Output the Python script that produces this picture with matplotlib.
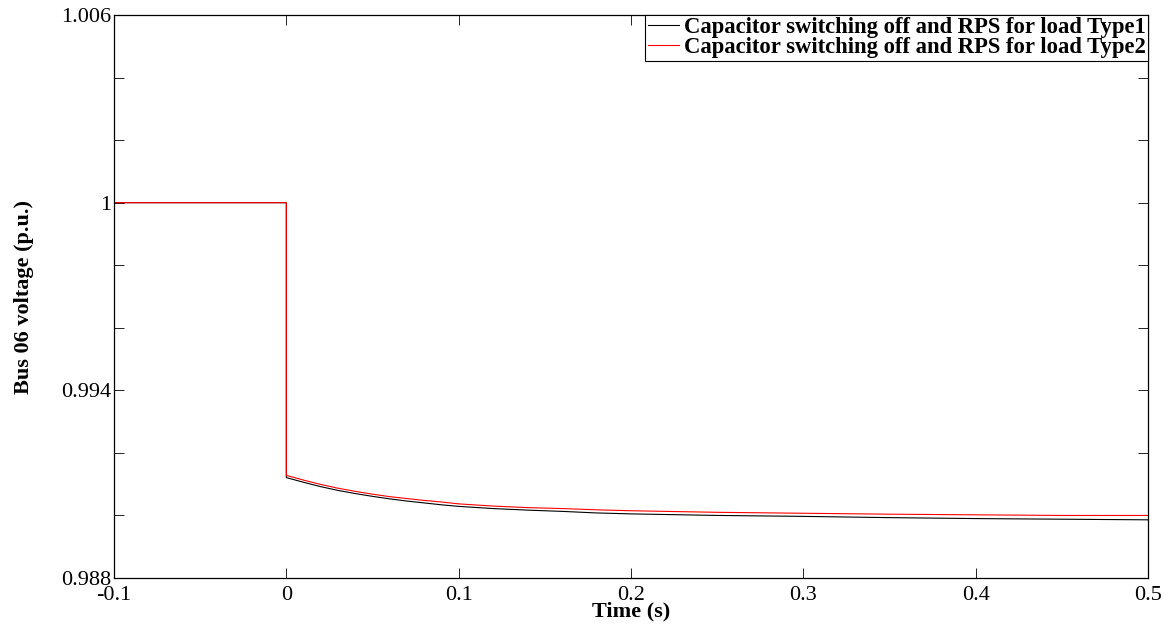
import matplotlib
matplotlib.use("Agg")
import matplotlib.pyplot as plt
from matplotlib.ticker import FixedLocator, FixedFormatter

plt.rcParams.update({"font.family": ["Liberation Serif", "DejaVu Serif"], "font.size": 16})

# time (s) and bus 06 voltage (p.u.)
t = [-0.1, 0.0, 0.0, 0.01, 0.02, 0.03, 0.04, 0.05, 0.06, 0.07, 0.08, 0.09, 0.1,
     0.12, 0.14, 0.16, 0.18, 0.2, 0.25, 0.3, 0.35, 0.4, 0.45, 0.5]
v_type1 = [1.0, 1.0, 0.99121, 0.99106, 0.99092, 0.99080, 0.99070, 0.99061,
           0.99053, 0.99046, 0.99040, 0.99034, 0.99029, 0.99022, 0.99017,
           0.99013, 0.99008, 0.99005, 0.99000, 0.98997, 0.98993, 0.98990,
           0.98988, 0.98986]
v_type2 = [1.0, 1.0, 0.99128, 0.99113, 0.99099, 0.99087, 0.99077, 0.99068,
           0.99060, 0.99054, 0.99048, 0.99043, 0.99037, 0.99030, 0.99025,
           0.99022, 0.99018, 0.99015, 0.99010, 0.99007, 0.99004, 0.99002,
           0.99000, 0.99000]
labels = ["Capacitor switching off and RPS for load Type1",
          "Capacitor switching off and RPS for load Type2"]

xticks = [-0.1, 0, 0.1, 0.2, 0.3, 0.4, 0.5]
xticklabels = ["-0.1", "0", "0.1", "0.2", "0.3", "0.4", "0.5"]
yticks = [0.988, 0.990, 0.992, 0.994, 0.996, 0.998, 1.000, 1.002, 1.004, 1.006]
yticklabels = ["0.988", "", "", "0.994", "", "", "1", "", "", "1.006"]

fig = plt.figure(figsize=(11.72, 6.25), dpi=100)
ax = fig.add_axes([114/1172, 1 - 578/625, 1034/1172, 563/625])

ax.plot(t, v_type1, color="black", lw=0.8, label=labels[0])
ax.plot(t, v_type2, color="#ff0000", lw=0.8, label=labels[1])

ax.set_xlim(-0.1, 0.5)
ax.set_ylim(0.988, 1.006)
ax.xaxis.set_major_locator(FixedLocator(xticks))
ax.xaxis.set_major_formatter(FixedFormatter(xticklabels))
ax.yaxis.set_major_locator(FixedLocator(yticks))
ax.yaxis.set_major_formatter(FixedFormatter(yticklabels))
ax.tick_params(direction="in", length=7.5, width=0.6, top=True, right=True, labelsize=16)
ax.tick_params(axis="x", pad=6)
ax.tick_params(axis="y", pad=2)
for s in ax.spines.values():
    s.set_linewidth(0.9)

ax.set_xlabel("Time (s)", fontsize=16, weight="bold")
ax.xaxis.set_label_coords(0.5, -0.042)
ax.set_ylabel("Bus 06 voltage (p.u.)", fontsize=16, weight="bold")
ax.yaxis.set_label_coords(-0.077, 0.5)

leg = ax.legend(loc="upper right", borderaxespad=0, fancybox=False, framealpha=1,
                edgecolor="black", prop={"weight": "bold", "size": 16.3},
                labelspacing=-0.04, borderpad=0.1, handlelength=1.4,
                handletextpad=0.2)
leg.get_frame().set_linewidth(0.8)

fig.savefig("out.png", dpi=100)
